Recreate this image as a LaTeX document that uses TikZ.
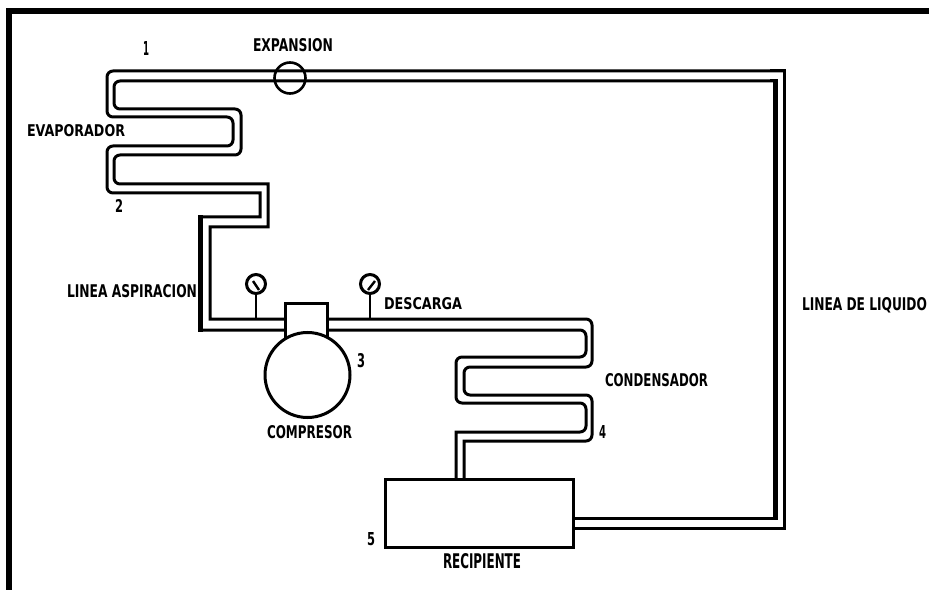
\documentclass[tikz,border=0pt]{standalone}
\usepackage{fontspec}
\setmainfont{DejaVu Sans}
% \lab{name}{x-left}{y-bottom}{width}{height}{text}
\newcommand\lab[6]{\node[lbl] (#1) at (#2,#3) {\resizebox{#4bp}{#5bp}{\textbf{#6}}};}
\tikzset{
  lbl/.style={anchor=base west,inner sep=0pt,outer sep=0pt},
  frameline/.style={line width=6bp,line cap=butt},
  pipe/.style={line width=3bp,line join=miter},
  pipebend/.style={rounded corners=6bp},
  heavy/.style={line width=5bp,line cap=butt},
  part/.style={draw,line width=3bp,inner sep=0pt,outer sep=0pt,fill=white},
  gauge/.style={part,circle,minimum size=19bp},
  stem/.style={line width=2.4bp},
}
\begin{document}
\begin{tikzpicture}[x=1bp,y=-1bp]
\useasboundingbox (0,0) rectangle (929,590);
\coordinate (fa) at (9,590); \coordinate (fb) at (9,11); \coordinate (fc) at (929,11);
\draw[frameline] (fa) -- (fb) -- (fc);
\node[part,rectangle,minimum width=188bp,minimum height=68bp] (recv) at (479,513) {};
\node[part,rectangle,minimum width=42bp,minimum height=35bp] (cbox) at (306,320.5) {};
\node[part,circle,minimum size=85bp] (comp) at (307.5,375) {};
\node[gauge] (g1) at (256,284) {};
\node[gauge] (g2) at (370,284) {};
\node[part,circle,fill=none,line width=2.6bp,minimum size=31bp] (valve) at (290,78) {};
% needles and stems
\draw[stem] (253,281) -- (259,290);
\draw[stem] (368,290) -- (375,281);
\draw[stem] (g1.south) -- (256,319);
\draw[stem] (g2.south) -- (370,319);
% suction side
\draw[pipe] (784,71) [pipebend] -- (107,71) -- (107,117) -- (233,117) -- (233,146) -- (107,146) -- (107,193) [sharp corners] -- (260,193) -- (260,217) -- (200,217) -- (200,330) -- (cbox.west |- 0,330);
\draw[pipe] (775,81) [pipebend] -- (114,81) -- (114,109) -- (241,109) -- (241,155) -- (114,155) -- (114,184) [sharp corners] -- (268,184) -- (268,227) -- (210,227) -- (210,319) -- (cbox.west |- 0,319);
\draw[heavy] (200,215.5) -- (200,332);
% discharge side
\draw[pipe] (cbox.east |- 0,319) [pipebend] -- (592,319) -- (592,367) -- (464,367) -- (464,395) -- (592,395) -- (592,441) [sharp corners] -- (464,441) -- (464,0 |- recv.north);
\draw[pipe] (cbox.east |- 0,330) [pipebend] -- (586,330) -- (586,357) -- (456,357) -- (456,403) -- (586,403) -- (586,432) [sharp corners] -- (456,432) -- (456,0 |- recv.north);
% liquid line
\draw[line width=3bp] (recv.east |- 0,518) -- (775,518) -- (775,81) -- (770,81);
\draw[line width=3bp] (recv.east |- 0,528) -- (784.5,528) -- (784.5,71) -- (770,71);
\draw[heavy] (775,79.5) -- (775,519.5);
% labels
\lab{n1}{143}{56}{6}{14}{1}
\lab{expansion}{253}{52}{80}{13}{EXPANSION}
\lab{evaporador}{27}{137}{98}{12}{EVAPORADOR}
\lab{n2}{115}{213}{8}{13}{2}
\lab{aspiracion}{67}{298}{130}{13}{LINEA ASPIRACION}
\lab{descarga}{384}{309}{78}{12}{DESCARGA}
\lab{n3}{357}{367}{8}{14}{3}
\lab{compresor}{267}{438}{85}{13}{COMPRESOR}
\lab{condensador}{605}{386}{103}{13}{CONDENSADOR}
\lab{n4}{599}{438}{7}{13}{4}
\lab{liquido}{802}{311}{125}{13}{LINEA DE LIQUIDO}
\lab{n5}{367}{545}{8}{13}{5}
\lab{recipiente}{443}{568}{78}{15}{RECIPIENTE}
\end{tikzpicture}
\end{document}
